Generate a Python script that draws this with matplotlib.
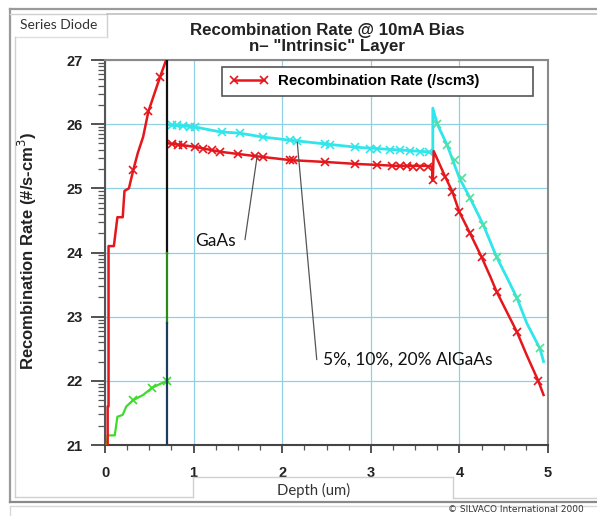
import math
import matplotlib
matplotlib.use("Agg")
import matplotlib.pyplot as plt
from matplotlib.lines import Line2D
from matplotlib.ticker import FixedLocator, MultipleLocator

# ---- data: log10 recombination rate (#/s-cm^3) versus depth (um) ----
# GaAs structure (red): contact region, intrinsic layer, substrate
gaas_left_depth = [0.03, 0.03, 0.04, 0.04, 0.10, 0.14, 0.20, 0.22, 0.27, 0.32, 0.37, 0.43, 0.49, 0.62, 0.69]
gaas_left_rate = [21.0, 21.6, 21.6, 24.1, 24.1, 24.55, 24.55, 24.96, 25.0, 25.29, 25.55, 25.80, 26.20, 26.73, 27.0]

gaas_depth = [0.72, 1.0, 1.3, 1.71, 2.09, 2.5, 2.84, 3.3, 3.63, 3.69, 3.70, 3.71,
              3.84, 3.92, 4.0, 4.12, 4.25, 4.35, 4.42, 4.65, 4.76, 4.89, 4.95]
gaas_rate = [25.70, 25.65, 25.57, 25.50, 25.44, 25.41, 25.38, 25.35, 25.35, 25.34, 25.12, 25.58,
             25.18, 24.95, 24.63, 24.30, 23.93, 23.62, 23.39, 22.76, 22.40, 22.0, 21.78]

gaas_mark_depth = [0.32, 0.49, 0.62,
                   0.76, 0.82, 0.88, 1.02, 1.11, 1.21, 1.30, 1.50, 1.69, 1.78, 2.09, 2.12, 2.48,
                   2.82, 3.07, 3.24, 3.33, 3.41, 3.48, 3.56, 3.65, 3.70,
                   3.84, 3.92, 4.0, 4.12, 4.25, 4.42, 4.65, 4.89]
gaas_mark_rate = [25.29, 26.20, 26.73,
                  25.69, 25.68, 25.67, 25.65, 25.62, 25.60, 25.57, 25.53, 25.50, 25.49, 25.44, 25.44, 25.41,
                  25.38, 25.36, 25.35, 25.35, 25.35, 25.34, 25.34, 25.34, 25.13,
                  25.18, 24.94, 24.63, 24.30, 23.93, 23.39, 22.76, 22.0]

# AlGaAs structures (5%, 10%, 20%): nearly coincident cyan curve
algaas_depth = [0.72, 1.0, 1.3, 1.52, 1.78, 2.09, 2.5, 2.84, 3.3, 3.63, 3.70, 3.70,
                3.75, 3.86, 4.0, 4.12, 4.27, 4.42, 4.54, 4.65, 4.76, 4.91, 4.95]
algaas_rate = [25.99, 25.96, 25.88, 25.86, 25.80, 25.75, 25.69, 25.64, 25.60, 25.57, 25.55, 26.25,
               26.0, 25.68, 25.16, 24.85, 24.43, 23.93, 23.60, 23.29, 22.90, 22.50, 22.30]

algaas_mark_depth = [0.76, 0.81, 0.88, 0.96, 1.02, 1.32, 1.52, 1.78, 2.09, 2.17, 2.48, 2.54,
                     2.82, 2.99, 3.07, 3.22, 3.33, 3.44, 3.56, 3.66]
algaas_mark_rate = [25.98, 25.98, 25.97, 25.96, 25.95, 25.88, 25.86, 25.80, 25.75, 25.73, 25.69, 25.68,
                    25.64, 25.62, 25.61, 25.60, 25.59, 25.58, 25.57, 25.56]
algaas_fall_mark_depth = [3.75, 3.86, 3.95, 4.03, 4.12, 4.27, 4.42, 4.65, 4.91]
algaas_fall_mark_rate = [26.0, 25.68, 25.44, 25.16, 24.85, 24.43, 23.93, 23.29, 22.51]

# contact region of the AlGaAs structures (green)
contact_depth = [0.02, 0.03, 0.11, 0.14, 0.20, 0.24, 0.32, 0.43, 0.53, 0.62, 0.70]
contact_rate = [21.0, 21.15, 21.15, 21.44, 21.47, 21.60, 21.70, 21.78, 21.89, 21.95, 22.0]
contact_mark_depth = [0.32, 0.53, 0.70]
contact_mark_rate = [21.70, 21.89, 22.0]

# interface at 0.7 um: vertical jumps of the curves
interface_depth = 0.70
interface_navy = [21.0, 22.9]
interface_green = [22.9, 24.0]
interface_black = [24.0, 27.0]

x_ticks = [0, 1, 2, 3, 4, 5]
y_ticks = [21, 22, 23, 24, 25, 26, 27]
legend_label = "Recombination Rate (/scm3)"

RED = "#e5171c"
CYAN = "#2fe6ea"
GREEN = "#3ddc2a"
GRID = "#8fd0e2"

W, H = 597, 516
fig = plt.figure(figsize=(W / 100, H / 100), dpi=100)
fig.patch.set_facecolor("white")


def fx(px):
    return px / W


def fy(py):
    return 1 - py / H


def frame_line(xs, ys, color="#c8c8c8", lw=1.0):
    fig.add_artist(Line2D([fx(v) for v in xs], [fy(v) for v in ys],
                          color=color, lw=lw, transform=fig.transFigure))


# window frame and tabs
frame_line([10, 597], [9, 9], "#9a9a9a", 1.6)
frame_line([10, 10], [9, 502], "#9a9a9a", 1.6)
frame_line([10, 107], [14, 14], "#d0d0d0")
frame_line([107, 107], [14, 37], "#d0d0d0")
frame_line([107, 597], [14, 14], "#c0c0c0", 1.2)
frame_line([15, 107], [37, 37], "#e0e0e0")
frame_line([15, 15], [37, 497], "#d0d0d0")
frame_line([15, 193], [497, 497], "#d0d0d0")
frame_line([193, 193], [477, 497], "#d0d0d0")
frame_line([193, 453], [477, 477], "#d0d0d0")
frame_line([453, 453], [477, 498], "#d0d0d0")
frame_line([453, 597], [498, 498], "#d0d0d0")
frame_line([10, 597], [502, 502], "#8a8a8a", 1.6)
frame_line([10, 597], [506, 506], "#d8d8d8", 1.0)
frame_line([10, 10], [507, 516], "#d8d8d8", 1.0)

ax = fig.add_axes([fx(105), fy(445), (548 - 105) / W, (445 - 60) / H])
ax.set_xlim(0, 5)
ax.set_ylim(21, 27)

ax.xaxis.set_major_locator(FixedLocator(x_ticks))
ax.xaxis.set_minor_locator(MultipleLocator(0.25))
ax.yaxis.set_major_locator(FixedLocator(y_ticks))
minor_y = [d + math.log10(k) for d in range(21, 27) for k in range(2, 10)]
ax.yaxis.set_minor_locator(FixedLocator(minor_y))

ax.grid(True, which="major", color=GRID, lw=0.9)
ax.set_axisbelow(True)

ax.tick_params(axis="y", which="major", length=10, width=1.3, pad=6, color="#444",
               labelsize=10.5, labelcolor="#222")
ax.tick_params(axis="y", which="minor", length=5, width=0.9, color="#555")
ax.tick_params(axis="x", which="major", length=6, width=1.3, pad=9, color="#444",
               labelsize=10.5, labelcolor="#222")
ax.tick_params(axis="x", which="minor", length=3.5, width=0.9, color="#555")
for lab in ax.get_xticklabels() + ax.get_yticklabels():
    lab.set_fontweight("bold")
    lab.set_family("Liberation Sans")

ax.spines["left"].set_color("#555")
ax.spines["bottom"].set_color("#444")
ax.spines["top"].set_color("#8a8a8a")
ax.spines["right"].set_color("#8a8a8a")
for s in ax.spines.values():
    s.set_linewidth(1.5)

mk = dict(marker="x", ms=6, mew=1.2, ls="none")

# interface jumps
ax.plot([interface_depth] * 2, interface_black, color="#111", lw=1.6, zorder=4)
ax.plot([interface_depth] * 2, interface_green, color="#2a8a1a", lw=1.6, zorder=4)
ax.plot([interface_depth] * 2, interface_navy, color="#1c3d5c", lw=1.6, zorder=4)

# contact region
ax.plot(contact_depth, contact_rate, color=GREEN, lw=1.6, zorder=3)
ax.plot(contact_mark_depth, contact_mark_rate, color=GREEN, **mk, zorder=3)

# AlGaAs curves
ax.plot(algaas_depth, algaas_rate, color=CYAN, lw=2.0, zorder=3)
ax.plot(algaas_mark_depth, algaas_mark_rate, color=CYAN, **mk, zorder=3)
ax.plot(algaas_fall_mark_depth, algaas_fall_mark_rate, color="#52e0a0", **mk, zorder=3)

# GaAs curves
ax.plot(gaas_left_depth, gaas_left_rate, color=RED, lw=1.8, zorder=3)
ax.plot(gaas_depth, gaas_rate, color=RED, lw=1.8, zorder=3)
ax.plot(gaas_mark_depth, gaas_mark_rate, color=RED, **mk, zorder=3)

# legend box spanning most of the upper plot width
handle = Line2D([], [], color=RED, lw=1.8, marker="x", ms=6, mew=1.2)
leg = ax.legend([handle], [legend_label], loc="upper left",
                bbox_to_anchor=(0.264, 0.904, 0.702, 0.078), mode="expand",
                borderaxespad=0, numpoints=2, frameon=True,
                fancybox=False, edgecolor="#555", framealpha=1,
                prop=dict(family="Liberation Sans", weight="bold", size=10.8),
                handlelength=2.6, borderpad=0.5, handletextpad=0.65)
leg.get_frame().set_linewidth(1.2)

# annotations
ann_font = dict(family="Lato", size=12.5, color="#111")
ax.text(1.016, 24.18, "GaAs", ha="left", va="center", **ann_font)
ax.annotate("", xy=(1.716, 25.49), xytext=(1.58, 24.20),
            arrowprops=dict(arrowstyle="-", color="#555", lw=0.9, shrinkA=0, shrinkB=0))
ax.text(2.46, 22.33, "5%, 10%, 20% AlGaAs", ha="left", va="center", **ann_font)
ax.annotate("", xy=(2.17, 25.72), xytext=(2.39, 22.33),
            arrowprops=dict(arrowstyle="-", color="#555", lw=0.9, shrinkA=0, shrinkB=0))

# titles and labels
fig.text(fx(327), fy(30), "Recombination Rate @ 10mA Bias", ha="center", va="center",
         family="Liberation Sans", weight="bold", size=12.2, color="#222")
fig.text(fx(327), fy(46), "n\u2013 \"Intrinsic\" Layer", ha="center", va="center",
         family="Liberation Sans", weight="bold", size=12.2, color="#222")
fig.text(fx(20), fy(25), "Series Diode", ha="left", va="center",
         family="Lato", size=10, color="#333")
fig.text(fx(27), fy(251), "Recombination Rate (#/s-cm$^3$)", ha="center", va="center",
         rotation=90, family="Liberation Sans", weight="bold", size=12, color="#222")
fig.text(fx(314), fy(490), "Depth (um)", ha="center", va="center",
         family="Lato", size=10.7, color="#333")
fig.text(fx(448), fy(510), "\u00a9 SILVACO International 2000", ha="left", va="center",
         family="DejaVu Sans", size=6.5, color="#333")

fig.savefig("out.png", dpi=100)
